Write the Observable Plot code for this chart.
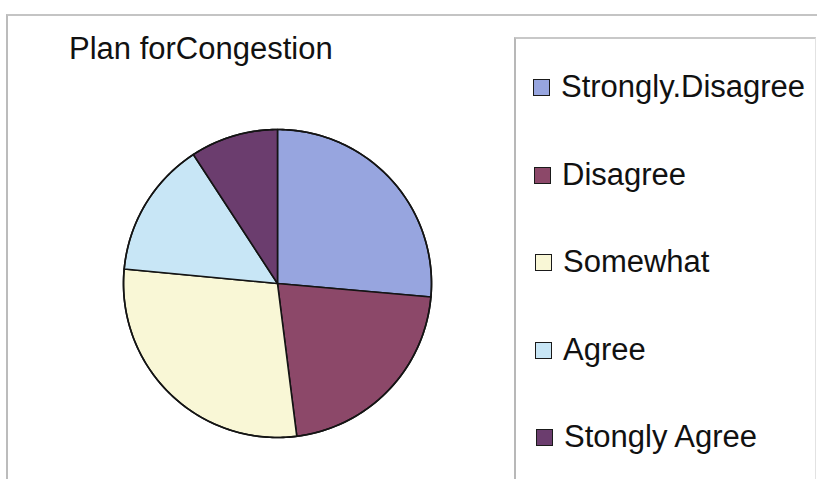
<!DOCTYPE html>
<html>
<head>
<meta charset="utf-8">
<script src="https://cdn.jsdelivr.net/npm/d3@7"></script>
<script src="https://cdn.jsdelivr.net/npm/@observablehq/plot@0.6"></script>
<style>
  html, body { margin: 0; padding: 0; background: #fff; }
  #chart {
    position: relative; width: 817px; height: 479px; overflow: hidden;
    font-family: "Liberation Sans", Arial, Helvetica, sans-serif; color: #111;
  }
  #frame {
    position: absolute; left: 6px; top: 14px; width: 830px; height: 480px;
    border-left: 2px solid #bcbcbc; border-top: 2px solid #c4c4c4;
  }
  #title {
    position: absolute; left: 69px; top: 33px; font-size: 31px; line-height: 31px;
    white-space: pre;
  }
  #legend {
    position: absolute; left: 514px; top: 37px; width: 299px; height: 460px;
    border-left: 2px solid #b8b8b8; border-top: 2px solid #c8c8c8; border-right: 1px solid #e2e2e2;
  }
  .row {
    position: absolute; display: flex; align-items: center; height: 31px;
    font-size: 31px; line-height: 31px; white-space: nowrap;
  }
  .sw {
    width: 15px; height: 15px; border: 1.8px solid #1a1a1a; margin-right: 11px; flex: none;
  }
  .lbl { position: relative; top: -1px; }
  #pie { position: absolute; left: 117px; top: 123px; }
</style>
</head>
<body>
<div id="chart">
  <div id="frame"></div>
  <div id="title">Plan forCongestion</div>
  <div id="legend"></div>
  <div id="pie"></div>
</div>
<script>
// Survey responses, share of answers (%)
const categories = ["Strongly.Disagree", "Disagree", "Somewhat", "Agree", "Stongly Agree"];
const shares = [26.4, 21.6, 28.5, 14.3, 9.2];
const colors = ["#97a5df", "#8c4869", "#f9f7d6", "#c8e6f6", "#6b3d6e"];

const data = categories.map((name, i) => ({name, value: shares[i]}));

// Slices start at 12 o'clock and run clockwise, in series order
const arcs = d3.pie().sort(null).value(d => d.value)(data);

// Planar polygon for an angular span on the unit circle (y grows downward)
function ring(a0, a1, withCenter) {
  const n = Math.max(2, Math.ceil((a1 - a0) / (Math.PI / 180)));
  const pts = withCenter ? [[0, 0]] : [];
  for (let k = 0; k <= n; ++k) {
    const a = a0 + (a1 - a0) * k / n;
    pts.push([Math.sin(a), -Math.cos(a)]);
  }
  pts.push(pts[0]);
  return pts;
}

const slices = arcs.map(a => ({
  type: "Feature",
  properties: {name: a.data.name},
  geometry: {type: "Polygon", coordinates: [ring(a.startAngle, a.endAngle, true)]}
}));

const outline = {type: "Polygon", coordinates: [ring(0, 2 * Math.PI, false)]};

const pie = Plot.plot({
  width: 320,
  height: 320,
  margin: 6,
  projection: {type: "identity", domain: outline},
  color: {domain: categories, range: colors},
  marks: [
    Plot.geo(slices, {fill: d => d.properties.name, stroke: "#141414", strokeWidth: 1.6}),
    Plot.geo(outline, {stroke: "#141414", strokeWidth: 1.6})
  ]
});
document.getElementById("pie").append(pie);

// Vertical legend, one widely spaced row per category
const legend = document.getElementById("legend");
const rowTops = [33, 121, 208, 296, 383];
const rowLefts = [17, 18, 19, 19, 20];
categories.forEach((name, i) => {
  const row = document.createElement("div");
  row.className = "row";
  row.style.top = rowTops[i] + "px";
  row.style.left = rowLefts[i] + "px";
  const sw = document.createElement("div");
  sw.className = "sw";
  sw.style.background = colors[i];
  const lbl = document.createElement("span");
  lbl.className = "lbl";
  lbl.textContent = name;
  row.append(sw, lbl);
  legend.append(row);
});
</script>
</body>
</html>
